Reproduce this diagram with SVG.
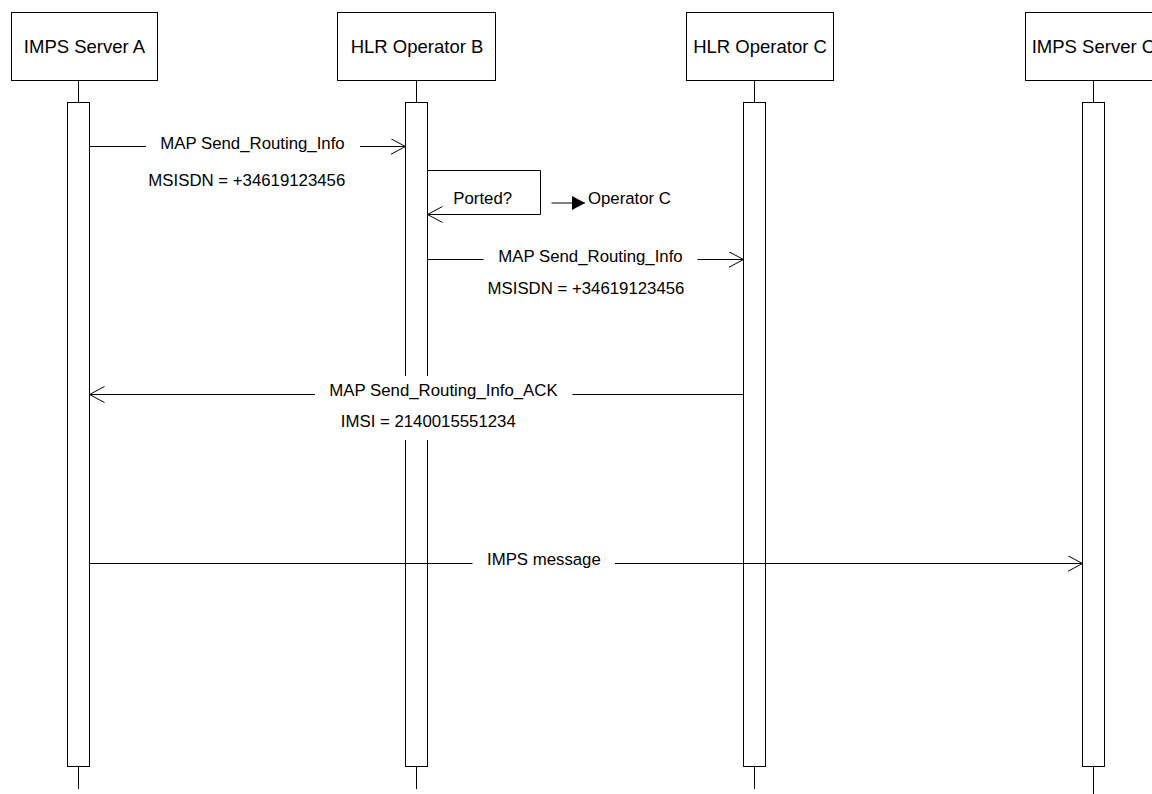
<svg xmlns="http://www.w3.org/2000/svg" width="1152" height="794" viewBox="0 0 1152 794">
  <style>
    .box { fill: #fff; stroke: #000; stroke-width: 1; }
    .life { stroke: #000; stroke-width: 1; fill: none; }
    .act { fill: #fff; stroke: #000; stroke-width: 1; }
    .msg { stroke: #000; stroke-width: 1; fill: none; }
    .title { font-family: "Liberation Sans", Arial, Helvetica, sans-serif; font-size: 18.5px; fill: #000; text-anchor: middle; }
    .label { font-family: "Liberation Sans", Arial, Helvetica, sans-serif; font-size: 16.8px; fill: #000; text-anchor: middle; }
    .label-bg { fill: #fff; stroke: none; }
  </style>
  <defs>
    <marker id="open" markerWidth="18" markerHeight="18" refX="15" refY="8" orient="auto" markerUnits="userSpaceOnUse">
      <path d="M0,0 L15,8 L0,16" fill="none" stroke="#000" stroke-width="1"/>
    </marker>
    <marker id="solid" markerWidth="16" markerHeight="16" refX="13" refY="7" orient="auto" markerUnits="userSpaceOnUse">
      <path d="M0,0 L13,7 L0,14 Z" fill="#000" stroke="none"/>
    </marker>
  </defs>
  <rect width="1152" height="794" fill="#fff"/>

  <!-- participants -->
  <g id="imps-server-a">
    <rect class="box" x="11.5" y="12.5" width="146" height="68"/>
    <text class="title" x="84.5" y="53.3">IMPS Server A</text>
    <line class="life" x1="78.5" y1="80.5" x2="78.5" y2="102.5"/>
    <rect class="act" x="67.5" y="102.5" width="22" height="664"/>
    <line class="life" x1="78.5" y1="766.5" x2="78.5" y2="789"/>
  </g>
  <g id="hlr-operator-b">
    <rect class="box" x="337.5" y="12.5" width="158" height="68"/>
    <text class="title" x="417" y="53.3">HLR Operator B</text>
    <line class="life" x1="416.5" y1="80.5" x2="416.5" y2="102.5"/>
    <rect class="act" x="405.5" y="102.5" width="22" height="664"/>
    <line class="life" x1="416.5" y1="766.5" x2="416.5" y2="789"/>
  </g>
  <g id="hlr-operator-c">
    <rect class="box" x="686.5" y="12.5" width="147" height="68"/>
    <text class="title" x="760" y="53.3">HLR Operator C</text>
    <line class="life" x1="754.5" y1="80.5" x2="754.5" y2="102.5"/>
    <rect class="act" x="743.5" y="102.5" width="22" height="664"/>
    <line class="life" x1="754.5" y1="766.5" x2="754.5" y2="789"/>
  </g>
  <g id="imps-server-c">
    <rect class="box" x="1025.5" y="12.5" width="147" height="68"/>
    <text class="title" x="1093.4" y="53.3">IMPS Server C</text>
    <line class="life" x1="1093.5" y1="80.5" x2="1093.5" y2="102.5"/>
    <rect class="act" x="1082.5" y="102.5" width="22" height="664"/>
    <line class="life" x1="1093.5" y1="766.5" x2="1093.5" y2="794"/>
  </g>

  <!-- messages -->
  <g id="connectors">
    <!-- A to B: routing info request -->
    <line class="msg" x1="89.5" y1="146.5" x2="146" y2="146.5"/>
    <line class="msg" x1="360" y1="146.5" x2="405.5" y2="146.5" marker-end="url(#open)"/>
    <!-- B self check -->
    <polyline class="msg" points="427.5,170.5 540.5,170.5 540.5,214.5 427.5,214.5" marker-end="url(#open)"/>
    <line class="msg" x1="551.5" y1="203" x2="585" y2="203" marker-end="url(#solid)"/>
    <!-- B to C: routing info request -->
    <line class="msg" x1="427.5" y1="259.5" x2="483.5" y2="259.5"/>
    <line class="msg" x1="697.5" y1="259.5" x2="743.5" y2="259.5" marker-end="url(#open)"/>
    <!-- C to A: acknowledgement -->
    <line class="msg" x1="743.5" y1="394.5" x2="572.5" y2="394.5"/>
    <line class="msg" x1="315" y1="394.5" x2="89.5" y2="394.5" marker-end="url(#open)"/>
    <!-- A to server C: IMPS message -->
    <line class="msg" x1="89.5" y1="563.5" x2="472.5" y2="563.5"/>
    <line class="msg" x1="615" y1="563.5" x2="1082.5" y2="563.5" marker-end="url(#open)"/>
  </g>

  <g id="labels">
    <text class="label" x="252.5" y="149.3">MAP Send_Routing_Info</text>
    <text class="label" x="246.8" y="186">MSISDN = +34619123456</text>
    <text class="label" x="482.7" y="204">Ported?</text>
    <text class="label" x="629.5" y="204">Operator C</text>
    <text class="label" x="590.5" y="261.7">MAP Send_Routing_Info</text>
    <text class="label" x="586" y="294.3">MSISDN = +34619123456</text>
    <!-- the acknowledgement label block masks the activation bar behind it -->
    <rect class="label-bg" x="315.5" y="376" width="256.5" height="64"/>
    <text class="label" x="443.5" y="396">MAP Send_Routing_Info_ACK</text>
    <text class="label" x="428.3" y="427.3">IMSI = 2140015551234</text>
    <text class="label" x="543.9" y="565">IMPS message</text>
  </g>
</svg>
